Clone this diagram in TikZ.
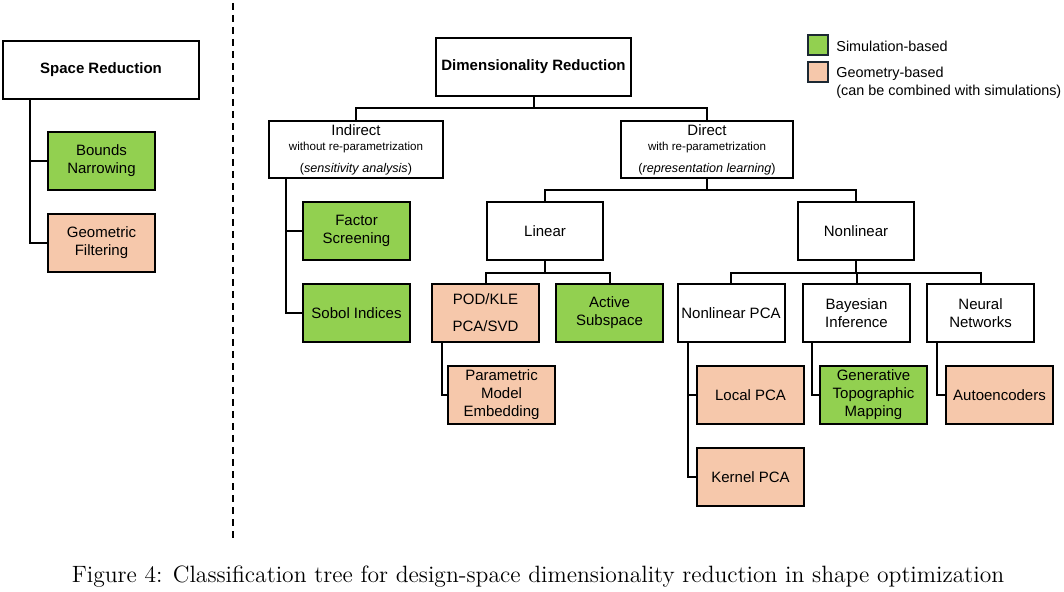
\documentclass[tikz,border=0pt]{standalone}
\usepackage{fontspec}
\setsansfont{Liberation Sans}
\usepackage{xcolor}
\usepackage{tikz}
\usetikzlibrary{positioning}

\definecolor{simgreen}{HTML}{92D050}
\definecolor{geopeach}{HTML}{F6C8AB}
\definecolor{legedge}{HTML}{1C2833}

\begin{document}
\begin{tikzpicture}[x=0.5pt, y=-0.5pt,
                font=\sffamily\fontsize{7.5}{9}\selectfont,
                box/.style={draw, line width=1pt, align=center, inner sep=1pt, minimum width=53.5pt, minimum height=29pt},
                cls/.style={box, fill=white},
                sim/.style={box, fill=simgreen},
                geo/.style={box, fill=geopeach},
                link/.style={line width=1pt},
                legkey/.style={draw=legedge, line width=0.9pt, minimum size=10pt, inner sep=0pt},
                legtxt/.style={inner sep=0pt, anchor=base west, font=\sffamily\fontsize{7.2}{8.6}\selectfont},
                divider/.style={dash pattern=on 3.5pt off 2.5pt, line width=0.7pt}
            ]
            \useasboundingbox (0,0) rectangle (1064,592);
            % left part: space reduction
            \node[cls, minimum width=98pt] (spacered) at (101,70) {\textbf{Space Reduction}};
            \node[sim] (bounds) at (101.5,161) {Bounds\\Narrowing};
            \node[geo, below=11pt of bounds] (geofilt) {Geometric\\Filtering};
            \draw[divider] (233,3) -- (233,541);
            % right part: dimensionality reduction
            \node[cls, minimum width=97.5pt] (dimred) at (533.5,67) {\textbf{Dimensionality Reduction}};
            \node[cls, minimum width=87pt, minimum height=28.5pt] (indirect) at (356,150) {Indirect\\[-1.5pt]{\fontsize{5.8}{7}\selectfont without re-parametrization}\\[2pt]{\fontsize{6.3}{7.5}\selectfont (\textit{sensitivity analysis})}};
            \node[cls, minimum width=86pt, minimum height=28.5pt] (direct) at (707,150) {Direct\\[-1.5pt]{\fontsize{5.8}{7}\selectfont with re-parametrization}\\[2pt]{\fontsize{6.3}{7.5}\selectfont (\textit{representation learning})}};
            \node[sim] (factor) at (356.5,231) {Factor\\Screening};
            \node[sim, below=11pt of factor] (sobol) {Sobol Indices};
            \node[cls, minimum width=58pt] (linear) at (545,231) {Linear};
            \node[cls, minimum width=58pt] (nonlin) at (856,231) {Nonlinear};
            \node[geo] (podkle) at (485.5,313) {POD/KLE\\[4.5pt]PCA/SVD};
            \node[sim, right=7.5pt of podkle] (active) {Active\\Subspace};
            \node[geo] (pme) at (501.5,395) {Parametric\\Model\\Embedding};
            \node[cls] (nlpca) at (731,313) {Nonlinear PCA};
            \node[cls] (bayes) at (856.5,313) {Bayesian\\Inference};
            \node[cls] (neural) at (980.5,313) {Neural\\Networks};
            \node[geo] (localpca) at (750.5,395) {Local PCA};
            \node[geo, below=11pt of localpca] (kpca) {Kernel PCA};
            \node[sim] (gtm) at (873.5,395) {Generative\\Topographic\\Mapping};
            \node[geo] (autoenc) at (999.5,395) {Autoencoders};
            % legend
            \node[legkey, fill=simgreen] (lgsim) at (818,45) {};
            \node[legkey, fill=geopeach] (lggeo) at (818,72) {};
            \node[legtxt] (lgsimtxt) at (836,51.5) {Simulation-based};
            \node[legtxt] (lggeotxt) at (836,78) {Geometry-based};
            \node[legtxt] (lgnote) at (836,95.5) {(can be combined with simulations)};
            % caption
            \node[font=\rmfamily\fontsize{11.8}{14}\selectfont] (caption) at (538,577) {Figure 4: Classification tree for design-space dimensionality reduction in shape optimization};
            % connectors
            \draw[link] ([xshift=14pt]spacered.south west) |- (bounds.west);
            \draw[link] ([xshift=14pt]spacered.south west) |- (geofilt.west);
            \draw[link] (dimred.south) -- ++(0,11) -| (indirect.north);
            \draw[link] (dimred.south) -- ++(0,11) -| (direct.north);
            \draw[link] ([xshift=9pt]indirect.south west) |- (factor.west);
            \draw[link] ([xshift=9pt]indirect.south west) |- (sobol.west);
            \draw[link] (direct.south) -- ++(0,11) -| (linear.north);
            \draw[link] (direct.south) -- ++(0,11) -| (nonlin.north);
            \draw[link] (linear.south) -- ++(0,12) -| (podkle.north);
            \draw[link] (linear.south) -- ++(0,12) -| (active.north);
            \draw[link] ([xshift=5.5pt]podkle.south west) |- (pme.west);
            \draw[link] (nonlin.south) -- ++(0,12) -| (nlpca.north);
            \draw[link] (nonlin.south) -- ++(0,12) -| (bayes.north);
            \draw[link] (nonlin.south) -- ++(0,12) -| (neural.north);
            \draw[link] ([xshift=5.5pt]nlpca.south west) |- (localpca.west);
            \draw[link] ([xshift=5.5pt]nlpca.south west) |- (kpca.west);
            \draw[link] ([xshift=5pt]bayes.south west) |- (gtm.west);
            \draw[link] ([xshift=5.5pt]neural.south west) |- (autoenc.west);
        \end{tikzpicture}
\end{document}
